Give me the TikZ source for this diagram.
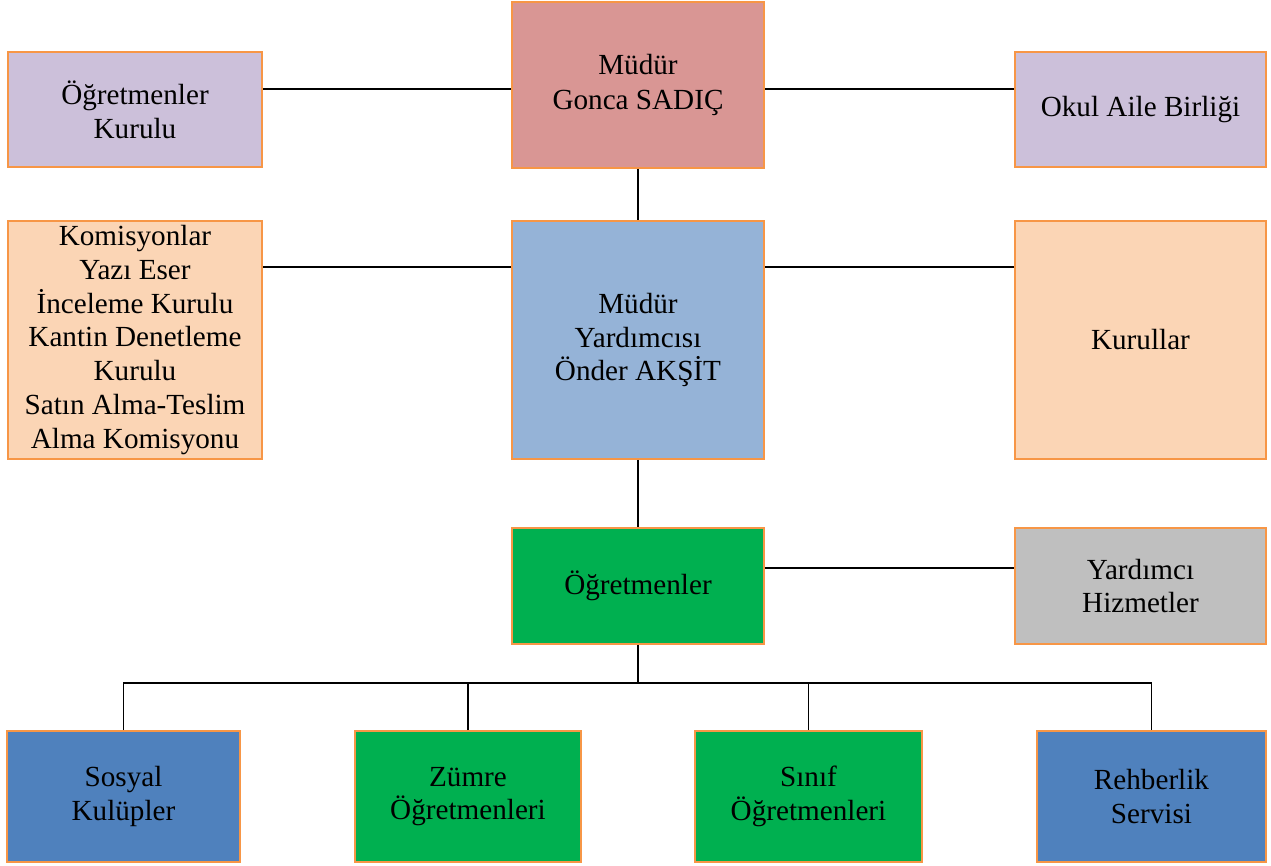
\documentclass[tikz,border=0pt]{standalone}
\usepackage{fontspec}
\setmainfont{Liberation Serif}
\definecolor{mudurkirmizi}{HTML}{D99694}
\definecolor{lila}{HTML}{CCC0DA}
\definecolor{seftali}{HTML}{FBD5B5}
\definecolor{acikmavi}{HTML}{95B3D7}
\definecolor{yesil}{HTML}{00B050}
\definecolor{gri}{HTML}{BFBFBF}
\definecolor{koyumavi}{HTML}{4F81BD}
\definecolor{cerceve}{HTML}{F79646}
\begin{document}
\begin{tikzpicture}[
  kutu/.style={draw=cerceve, line width=1.1pt, inner sep=0pt, align=center,
    font=\fontsize{16.6}{19.2}\selectfont},
  hat/.style={line width=1.1pt}]
  \useasboundingbox (0,0) rectangle (25.42,-17.32);
  % ust sira
  \node[kutu, fill=mudurkirmizi, minimum width=5.04cm, minimum height=3.32cm] (mudur) at (12.76,-1.70) {Müdür\\[1pt]Gonca SADIÇ};
  \node[kutu, fill=lila, minimum width=5.08cm, minimum height=2.30cm] (kurul) at (2.70,-2.19) {Öğretmenler\\Kurulu};
  \node[kutu, fill=lila, minimum width=5.02cm, minimum height=2.30cm] (aile) at (22.81,-2.19) {Okul Aile Birliği};
  % orta sira
  \node[kutu, fill=seftali, minimum width=5.08cm, minimum height=4.76cm] (komis) at (2.70,-6.80) {Komisyonlar\\Yazı Eser\\İnceleme Kurulu\\Kantin Denetleme\\Kurulu\\Satın Alma-Teslim\\Alma Komisyonu};
  \node[kutu, fill=acikmavi, minimum width=5.04cm, minimum height=4.76cm] (yard) at (12.76,-6.80) {Müdür\\Yardımcısı\\Önder AKŞİT};
  \node[kutu, fill=seftali, minimum width=5.02cm, minimum height=4.76cm] (kurullar) at (22.81,-6.80) {Kurullar};
  \node[kutu, fill=yesil, minimum width=5.04cm, minimum height=2.32cm] (ogr) at (12.76,-11.72) {Öğretmenler};
  \node[kutu, fill=gri, minimum width=5.02cm, minimum height=2.32cm] (hizmet) at (22.81,-11.72) {Yardımcı\\Hizmetler};
  % alt sira
  \node[kutu, fill=koyumavi, minimum width=4.66cm, minimum height=2.62cm] (sosyal) at (2.47,-15.93) {Sosyal\\Kulüpler};
  \node[kutu, fill=yesil, minimum width=4.52cm, minimum height=2.62cm] (zumre) at (9.36,-15.93) {Zümre\\Öğretmenleri};
  \node[kutu, fill=yesil, minimum width=4.54cm, minimum height=2.62cm] (sinif) at (16.17,-15.93) {Sınıf\\Öğretmenleri};
  \node[kutu, fill=koyumavi, minimum width=4.58cm, minimum height=2.62cm] (rehber) at (23.03,-15.93) {Rehberlik\\Servisi};
  \coordinate (bus) at (12.76,-13.66);

  \draw[hat] ([yshift=-0.08cm]mudur.west) -- ([yshift=-0.08cm]mudur.west -| kurul.east);
  \draw[hat] ([yshift=-0.08cm]mudur.east) -- ([yshift=-0.08cm]mudur.east -| aile.west);
  \draw[hat] (mudur.south) -- (yard.north);
  \draw[hat] ([yshift=1.46cm]yard.west) -- ([yshift=1.46cm]komis.east);
  \draw[hat] ([yshift=1.46cm]yard.east) -- ([yshift=1.46cm]kurullar.west);
  \draw[hat] (yard.south) -- (ogr.north);
  \draw[hat] ([yshift=0.36cm]ogr.east) -- ([yshift=0.36cm]hizmet.west);
  \draw[hat] (ogr.south) -- (bus);
  \draw[hat] (sosyal.north) |- (bus) -| (rehber.north);
  \draw[hat] (zumre.north) -- (zumre.north |- bus);
  \draw[hat] (sinif.north) -- (sinif.north |- bus);
\end{tikzpicture}
\end{document}
